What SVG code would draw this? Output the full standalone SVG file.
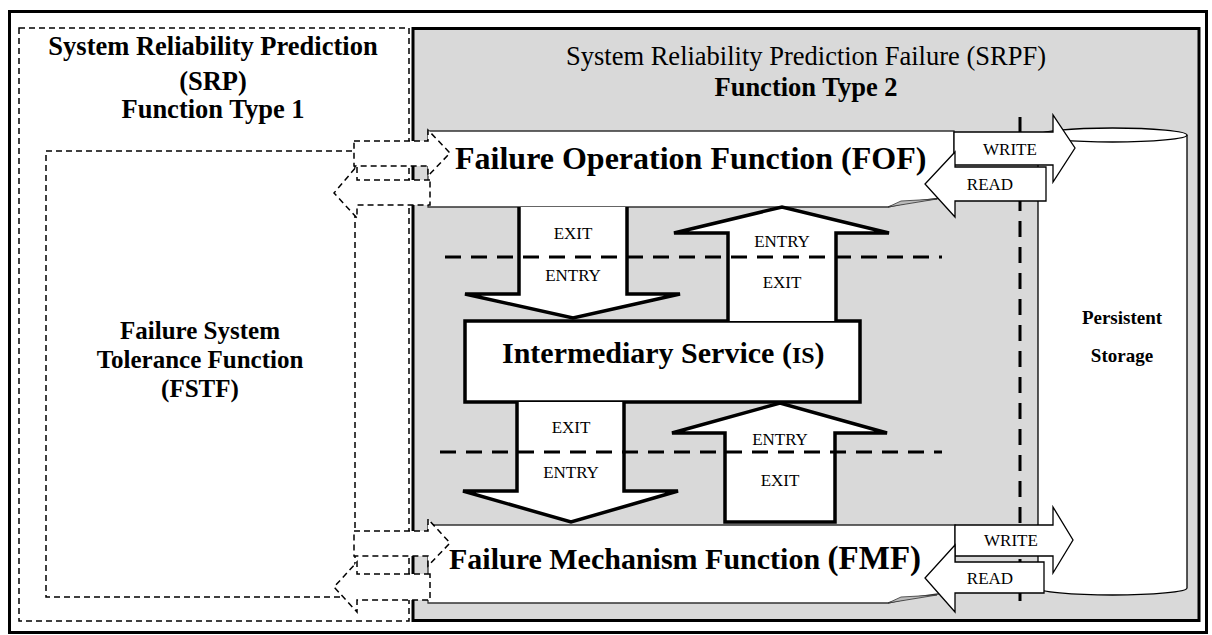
<svg xmlns="http://www.w3.org/2000/svg" width="1212" height="635" viewBox="0 0 1212 635">
<style>
text{font-family:"Liberation Serif","Times New Roman",serif;fill:#000}
.b{font-weight:bold}
.lbl{font-size:17px;text-anchor:middle}
.blk{fill:#fff;stroke:#000;stroke-width:3.5;stroke-linejoin:miter}
.rw{fill:#fff;stroke:#000;stroke-width:1.3}
.dsh{fill:#fff;stroke:#000;stroke-width:1.5;stroke-dasharray:6 4}
.bd{fill:none;stroke:#000;stroke-width:3;stroke-dasharray:16 10}
</style>
<rect width="1212" height="635" fill="#fff"/>
<g id="frame"><rect x="9.5" y="11.5" width="1197" height="621" fill="none" stroke="#000" stroke-width="3"/></g>
<g id="srp">
<rect x="19" y="28" width="390" height="593" fill="#fff" stroke="#000" stroke-width="1.5" stroke-dasharray="6 4"/>
<text class="b" font-size="26.5" text-anchor="middle"><tspan x="213" y="55">System Reliability Prediction</tspan><tspan x="213" y="90">(SRP)</tspan><tspan x="213" y="118">Function Type 1</tspan></text>
</g>
<g id="fstf">
<rect x="46" y="151" width="309" height="446" fill="#fff" stroke="#000" stroke-width="1.5" stroke-dasharray="6 4"/>
<text class="b" font-size="25" text-anchor="middle"><tspan x="200" y="339">Failure System</tspan><tspan x="200" y="368">Tolerance Function</tspan><tspan x="200" y="397">(FSTF)</tspan></text>
</g>
<g id="srpf">
<rect x="413" y="28.5" width="786" height="592" fill="#d9d9d9" stroke="#000" stroke-width="3"/>
<text font-size="26.5" text-anchor="middle" fill="#222" x="806" y="65">System Reliability Prediction Failure (SRPF)</text>
<text class="b" font-size="26.5" text-anchor="middle" x="806" y="96">Function Type 2</text>
</g>
<g id="boundary-v">
<line class="bd" x1="1020" y1="117" x2="1020" y2="607"/>
</g>
<g id="storage">
<path d="M1038,135 V588 A74.5,7 0 0 0 1187,588 V135" fill="#fff" stroke="#000" stroke-width="1.3"/>
<ellipse cx="1112.5" cy="135" rx="74.5" ry="7" fill="#fff" stroke="#000" stroke-width="1.3"/>
<text class="b" font-size="19" text-anchor="middle"><tspan x="1122" y="324">Persistent</tspan><tspan x="1122" y="362">Storage</tspan></text>
</g>
<g id="fof">
<path d="M428,131 L954,131 L954,197 Q915,200 888,207 L428,207 Z" fill="#fff" stroke="#333" stroke-width="1.3"/>
<path d="M888,207 L901,201 L937,199 Z" fill="#bbb" stroke="#333" stroke-width="0.8"/>
<text class="b" font-size="32" x="455" y="169">Failure Operation Function (FOF)</text>
</g>
<g id="fmf">
<path d="M428,525 L955,525 L955,592 Q915,596 888,603 L428,603 Z" fill="#fff" stroke="#333" stroke-width="1.3"/>
<path d="M888,603 L901,597 L937,595 Z" fill="#bbb" stroke="#333" stroke-width="0.8"/>
<text class="b" font-size="30" x="449" y="569">Failure Mechanism Function <tspan font-size="33">(FMF)</tspan></text>
</g>
<g id="is">
<rect x="465" y="321" width="395" height="81" fill="#fff" stroke="#000" stroke-width="3.5"/>
<text class="b" font-size="30" x="502" y="363">Intermediary Service (<tspan font-size="24">IS</tspan>)</text>
</g>
<g id="connectors">
<path class="blk" d="M519,207 V294 H465 L573,318 L680,294 H627 V207"/>
<path class="blk" d="M728,321 V233 H674 L782,207 L889,233 H836 V321"/>
<path class="blk" d="M517,402 V491 H463 L571,522 L678,491 H624 V402"/>
<path class="blk" d="M725,522 V433 H672 L780,403 L887,433 H835 V522 Z"/>
<text class="lbl" x="573" y="239">EXIT</text>
<text class="lbl" x="573" y="281">ENTRY</text>
<text class="lbl" x="782" y="247">ENTRY</text>
<text class="lbl" x="782" y="288">EXIT</text>
<text class="lbl" x="571" y="433">EXIT</text>
<text class="lbl" x="571" y="478">ENTRY</text>
<text class="lbl" x="780" y="445">ENTRY</text>
<text class="lbl" x="780" y="486">EXIT</text>
<path class="rw" d="M954,132 H1053 V115 L1075,148 L1053,182 V165 H954 Z"/>
<path class="rw" d="M1046,167 H955 V152 L925,184 L955,217 V201 H1046 Z"/>
<text class="lbl" x="1010" y="155">WRITE</text>
<text class="lbl" x="990" y="190">READ</text>
<path class="rw" d="M955,525 H1053 V507 L1073,540 L1053,573 V556 H955 Z"/>
<path class="rw" d="M1044,562 H955 V545 L925,578 L955,612 V593 H1044 Z"/>
<text class="lbl" x="1011" y="546">WRITE</text>
<text class="lbl" x="990" y="584">READ</text>
<path class="dsh" d="M354,141 L428,141 L428,130 L450,153 L428,176 L428,166 L354,166 Z"/>
<path class="dsh" d="M430,180 L357,180 L357,166 L334,193 L357,218 L357,205 L430,205 Z"/>
<path class="dsh" d="M354,531 L428,531 L428,519 L450,543 L428,566 L428,556 L354,556 Z"/>
<path class="dsh" d="M430,574 L357,574 L357,562 L334,587 L357,612 L357,600 L430,600 Z"/>
</g>
<g id="boundary-h">
<line class="bd" x1="445" y1="257" x2="942" y2="257"/>
<line class="bd" x1="440" y1="452" x2="942" y2="452"/>
</g>
</svg>
